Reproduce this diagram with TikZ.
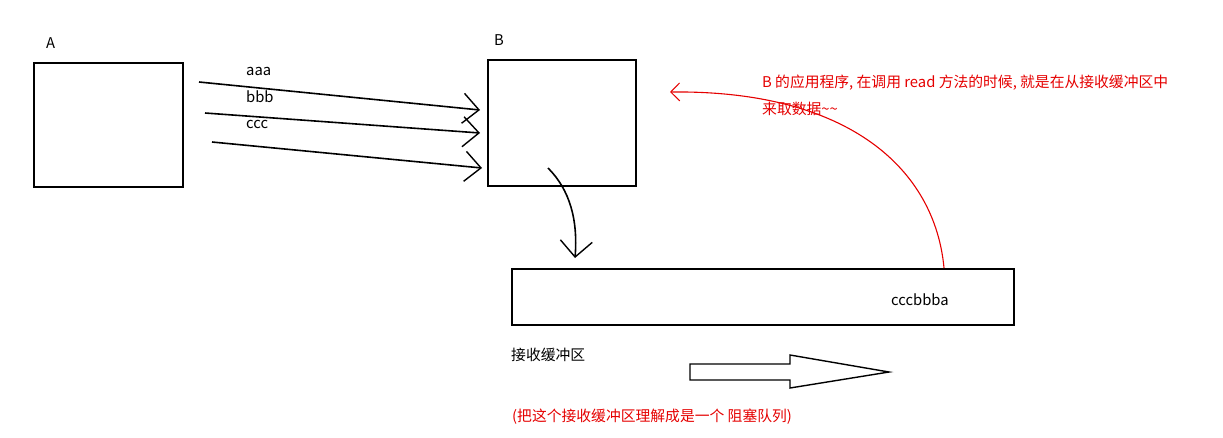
\documentclass[tikz,border=0pt]{standalone}
\usepackage{fontspec}
\setmainfont{Noto Sans CJK SC}
\usetikzlibrary{arrows.meta}
\begin{document}
\begin{tikzpicture}[x=1pt,y=-1pt,
  box/.style={draw,line width=1.6pt},
  lbl/.style={font=\fontsize{14.8}{27}\selectfont,anchor=west,inner sep=0},
  red/.style={color=red!90!black},
  hand/.style={line width=1.6pt,-{Straight Barb[length=16pt,width=30pt,line width=1.4pt]}}]
\useasboundingbox (0,0) rectangle (1223,437);
\node[box,minimum width=149pt,minimum height=124pt,anchor=north west] (A) at (33,62) {};
\node[box,minimum width=148pt,minimum height=126pt,anchor=north west] (B) at (487,59) {};
\node[lbl] (la) at (46,43) {A};
\node[lbl] (lb) at (494,40) {B};
\coordinate (a1) at (199,82); \coordinate (a2) at (480,110);
\coordinate (b1) at (205,113); \coordinate (b2) at (480,133);
\coordinate (c1) at (212,142); \coordinate (c2) at (482,168);
\draw[hand] (a1) -- (a2);
\draw[hand] (b1) -- (b2);
\draw[hand] (c1) -- (c2);
\node[lbl] (t1) at (246,71) {aaa};
\node[lbl] (t2) at (246,97) {bbb};
\node[lbl] (t3) at (246,124) {ccc};
\node[box,minimum width=502pt,minimum height=56pt,anchor=north west] (buf) at (511,268) {};
\node[lbl] (tc) at (891,300) {cccbbba};
\coordinate (d1) at (548,168); \coordinate (d2) at (575,258);
\draw[line width=1.6pt,-{Straight Barb[length=16pt,width=32pt,line width=1.4pt]}] (d1) .. controls (570,190) and (578,220) .. (d2);
\coordinate (r1) at (944,268); \coordinate (r2) at (670,92);
\draw[red,line width=1.1pt,-{Straight Barb[length=9pt,width=18pt,line width=1pt]}] (r1) .. controls (935,170) and (850,90) .. (r2);
\node[lbl,red,align=left,anchor=north west] (rt) at (762,75) {B 的应用程序, 在调用 read 方法的时候, 就是在从接收缓冲区中\\来取数据\textasciitilde\textasciitilde};
\node[lbl] (jb) at (511,355) {接收缓冲区};
\draw[line width=1.4pt] (690,364) -- (790,364) -- (790,355) -- (889,372) -- (790,388) -- (790,380) -- (690,380) -- cycle;
\node[lbl,red] (bt) at (512,417) {(把这个接收缓冲区理解成是一个 阻塞队列)};
\end{tikzpicture}
\end{document}
